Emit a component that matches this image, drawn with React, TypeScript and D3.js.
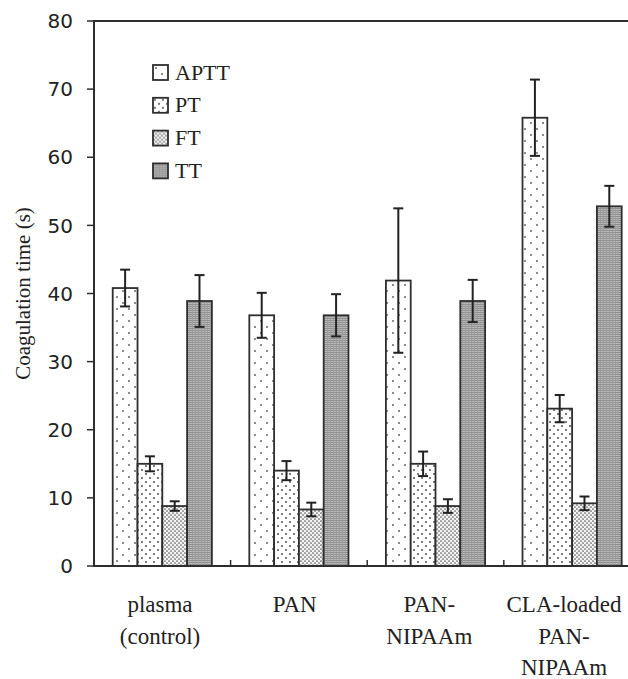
import React, { useEffect } from "react";
import * as d3 from "d3";

const categories: string[][] = [
  ["plasma", "(control)"],
  ["PAN"],
  ["PAN-", "NIPAAm"],
  ["CLA-loaded", "PAN-", "NIPAAm"],
];
const seriesNames = ["APTT", "PT", "FT", "TT"];
const aptt = [40.8, 36.8, 41.9, 65.8];
const apttErr = [2.7, 3.3, 10.6, 5.6];
const pt = [15.0, 14.0, 15.0, 23.1];
const ptErr = [1.1, 1.4, 1.8, 2.0];
const ft = [8.8, 8.3, 8.8, 9.2];
const ftErr = [0.7, 1.0, 1.0, 1.0];
const tt = [38.9, 36.8, 38.9, 52.8];
const ttErr = [3.8, 3.1, 3.1, 3.0];
const yTicks = [0, 10, 20, 30, 40, 50, 60, 70, 80];
const yTitle = "Coagulation time (s)";

const W = 628;
const H = 679;
const X0 = 94;
const X1 = 640.4;
const Y0 = 566;
const Y1 = 21;

export default function App() {
  useEffect(() => {
    document.body.style.margin = "0";
  }, []);

  const catKeys = categories.map((c) => c.join(" "));
  const x = d3
    .scaleBand<string>()
    .domain(catKeys)
    .range([X0, X1])
    .paddingInner(0.274)
    .paddingOuter(0.137);
  const xs = d3
    .scaleBand<string>()
    .domain(seriesNames)
    .range([0, x.bandwidth()])
    .padding(0);
  const y = d3.scaleLinear().domain([0, 80]).range([Y0, Y1]);
  const labelX = d3.scalePoint<string>().domain(catKeys).range([160, 564]);

  const values = [aptt, pt, ft, tt];
  const errs = [apttErr, ptErr, ftErr, ttErr];
  const fills = ["url(#pAPTT)", "url(#pPT)", "url(#pFT)", "url(#pTT)"];
  const stroke = "#2e2e2e";

  const boundaries = catKeys.slice(1).map((k) => (x(k) as number) - (x.step() * x.paddingInner()) / 2);

  return (
    <svg width={W} height={H} style={{ display: "block", background: "#fff" }}>
      <defs>
        <pattern id="pAPTT" width={12} height={12} patternUnits="userSpaceOnUse">
          <rect width={12} height={12} fill="#fff" />
          <circle cx={3} cy={3} r={0.9} fill="#555" />
          <circle cx={9} cy={9} r={0.9} fill="#555" />
        </pattern>
        <pattern id="pPT" width={8} height={8} patternUnits="userSpaceOnUse">
          <rect width={8} height={8} fill="#fff" />
          <circle cx={2} cy={2} r={0.95} fill="#444" />
          <circle cx={6} cy={6} r={0.95} fill="#444" />
        </pattern>
        <pattern id="pFT" width={4} height={4} patternUnits="userSpaceOnUse">
          <rect width={4} height={4} fill="#f4f4f4" />
          <circle cx={1} cy={1} r={0.85} fill="#5a5a5a" />
          <circle cx={3} cy={3} r={0.85} fill="#5a5a5a" />
        </pattern>
        <pattern id="pTT" width={3} height={2} patternUnits="userSpaceOnUse">
          <rect width={3} height={2} fill="#bcbcbc" />
          <line x1={0} y1={0.5} x2={3} y2={0.5} stroke="#8e8e8e" strokeWidth={1} />
          <line x1={0.5} y1={0} x2={0.5} y2={2} stroke="#9a9a9a" strokeWidth={0.8} />
        </pattern>
      </defs>

      {/* frame top */}
      <line x1={X0} y1={Y1} x2={W} y2={Y1} stroke={stroke} strokeWidth={2} />

      {/* bars */}
      {catKeys.map((k, ci) =>
        seriesNames.map((s, si) => {
          const v = values[si][ci];
          const bx = (x(k) as number) + (xs(s) as number);
          return (
            <rect
              key={k + s}
              x={bx}
              y={y(v)}
              width={xs.bandwidth()}
              height={Y0 - y(v)}
              fill={fills[si]}
              stroke={stroke}
              strokeWidth={1.8}
            />
          );
        })
      )}

      {/* error bars */}
      {catKeys.map((k, ci) =>
        seriesNames.map((s, si) => {
          const v = values[si][ci];
          const e = errs[si][ci];
          const cx = (x(k) as number) + (xs(s) as number) + xs.bandwidth() / 2;
          return (
            <g key={"e" + k + s} stroke="#222" strokeWidth={2}>
              <line x1={cx} x2={cx} y1={y(v + e)} y2={y(v - e)} />
              <line x1={cx - 5} x2={cx + 5} y1={y(v + e)} y2={y(v + e)} />
              <line x1={cx - 5} x2={cx + 5} y1={y(v - e)} y2={y(v - e)} />
            </g>
          );
        })
      )}

      {/* axes */}
      <line x1={X0} y1={Y1 - 1} x2={X0} y2={Y0} stroke={stroke} strokeWidth={2} />
      <line x1={X0 - 1} y1={Y0} x2={W} y2={Y0} stroke={stroke} strokeWidth={2} />
      {yTicks.map((t) => (
        <g key={"t" + t}>
          <line x1={X0 - 7} x2={X0} y1={y(t)} y2={y(t)} stroke={stroke} strokeWidth={1.5} />
          <text
            x={73}
            y={y(t)}
            dy="0.36em"
            textAnchor="end"
            fontFamily="DejaVu Sans, Verdana, sans-serif"
            fontSize={20}
            fill="#222"
          >
            {t}
          </text>
        </g>
      ))}
      {boundaries.map((b, i) => (
        <line key={"b" + i} x1={b} x2={b} y1={Y0} y2={Y0 - 6} stroke={stroke} strokeWidth={1.5} />
      ))}

      {/* y title */}
      <text
        transform={`translate(23,${(Y0 + Y1) / 2}) rotate(-90)`}
        textAnchor="middle"
        dominantBaseline="central"
        fontFamily="Liberation Serif, Times New Roman, serif"
        fontSize={21}
        fill="#222"
      >
        {yTitle}
      </text>

      {/* category labels */}
      {categories.map((lines, ci) => (
        <text
          key={"c" + ci}
          textAnchor="middle"
          fontFamily="Liberation Serif, Times New Roman, serif"
          fontSize={23}
          fill="#222"
        >
          {lines.map((ln, li) => (
            <tspan key={li} x={labelX(catKeys[ci]) as number} y={612 + li * 31.5}>
              {ln}
            </tspan>
          ))}
        </text>
      ))}

      {/* legend */}
      {seriesNames.map((s, si) => (
        <g key={"l" + s} transform={`translate(153,${65 + si * 32.8})`}>
          <rect x={0} y={0} width={15} height={15} fill={fills[si]} stroke={stroke} strokeWidth={1.8} />
          <text
            x={22}
            y={14.5}
            fontFamily="Liberation Serif, Times New Roman, serif"
            fontSize={22}
            fill="#222"
          >
            {s}
          </text>
        </g>
      ))}
    </svg>
  );
}
